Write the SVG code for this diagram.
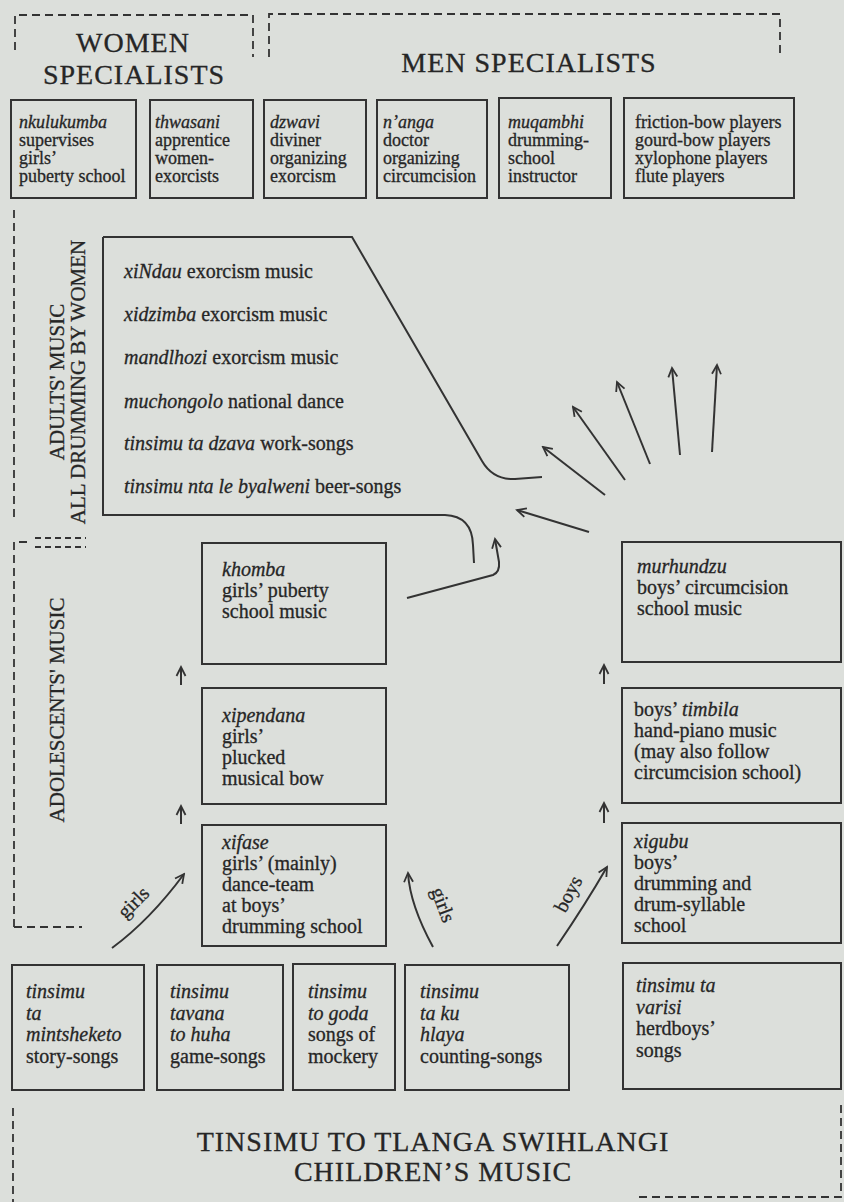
<svg xmlns="http://www.w3.org/2000/svg" width="844" height="1202" viewBox="0 0 844 1202">
<defs>
<marker id="ah" viewBox="-11 -6 13 12" refX="0" refY="0" markerWidth="13" markerHeight="12" markerUnits="userSpaceOnUse" orient="auto">
<path d="M-9,-4.5 L0,0 L-9,4.5" fill="none" stroke="#333" stroke-width="1.8"/>
</marker>
</defs>
<style>
.box{fill:none;stroke:#333;stroke-width:2}
.ln{fill:none;stroke:#333;stroke-width:2}
.dash{fill:none;stroke:#333;stroke-width:1.8;stroke-dasharray:8 5}
text{font-family:"Liberation Serif","Times New Roman",serif;fill:#262626;stroke:#262626;stroke-width:0.3}
.h{font-size:28px;letter-spacing:1px}
.lab{font-size:21px}
.s{font-size:18px}
.b{font-size:20px}
.i{font-style:italic}
</style>
<rect x="0" y="0" width="844" height="1202" fill="#dcdfdb"/>

<g id="brackets">
<path class="dash" d="M15,50 V15 H253 V57"/>
<path class="dash" d="M269,57 V14 H780 V55"/>
<path class="dash" d="M14,210 V522"/>
<path class="dash" d="M14,927 V542 H30"/>
<path class="dash" d="M35,538 H86 M35,547 H86" style="stroke-dasharray:6 4"/>
<path class="dash" d="M14,927 H82"/>
<path class="dash" d="M13,1108 V1202"/>
<path class="dash" d="M841,1105 V1197 H636"/>
</g>

<g id="headings">
<text class="h" x="133" y="52" text-anchor="middle">WOMEN</text>
<text class="h" x="134" y="84" text-anchor="middle">SPECIALISTS</text>
<text class="h" x="529" y="72" text-anchor="middle">MEN SPECIALISTS</text>
<text class="lab" transform="translate(64,382) rotate(-90)" text-anchor="middle">ADULTS' MUSIC</text>
<text class="lab" transform="translate(85,382) rotate(-90)" text-anchor="middle">ALL DRUMMING BY WOMEN</text>
<text class="lab" transform="translate(64,710) rotate(-90)" text-anchor="middle">ADOLESCENTS' MUSIC</text>
<text class="h" x="433" y="1151" text-anchor="middle">TINSIMU TO TLANGA SWIHLANGI</text>
<text class="h" x="433" y="1181" text-anchor="middle">CHILDREN’S MUSIC</text>
</g>

<g id="nkulukumba">
<rect class="box" x="11" y="100" width="125" height="98"/>
<text class="s" x="19" y="128"><tspan class="i">nkulukumba</tspan><tspan x="19" dy="18">supervises</tspan><tspan x="19" dy="18">girls’</tspan><tspan x="19" dy="18">puberty school</tspan></text>
</g>
<g id="thwasani">
<rect class="box" x="150" y="100" width="103" height="98"/>
<text class="s" x="155" y="128"><tspan class="i">thwasani</tspan><tspan x="155" dy="18">apprentice</tspan><tspan x="155" dy="18">women-</tspan><tspan x="155" dy="18">exorcists</tspan></text>
</g>
<g id="dzwavi">
<rect class="box" x="264" y="100" width="102" height="98"/>
<text class="s" x="270" y="128"><tspan class="i">dzwavi</tspan><tspan x="270" dy="18">diviner</tspan><tspan x="270" dy="18">organizing</tspan><tspan x="270" dy="18">exorcism</tspan></text>
</g>
<g id="nanga">
<rect class="box" x="377" y="100" width="110" height="98"/>
<text class="s" x="383" y="128"><tspan class="i">n’anga</tspan><tspan x="383" dy="18">doctor</tspan><tspan x="383" dy="18">organizing</tspan><tspan x="383" dy="18">circumcision</tspan></text>
</g>
<g id="muqambhi">
<rect class="box" x="499" y="98" width="112" height="100"/>
<text class="s" x="508" y="128"><tspan class="i">muqambhi</tspan><tspan x="508" dy="18">drumming-</tspan><tspan x="508" dy="18">school</tspan><tspan x="508" dy="18">instructor</tspan></text>
</g>
<g id="players">
<rect class="box" x="624" y="98" width="170" height="100"/>
<text class="s" x="635" y="128">friction-bow players<tspan x="635" dy="18">gourd-bow players</tspan><tspan x="635" dy="18">xylophone players</tspan><tspan x="635" dy="18">flute players</tspan></text>
</g>

<g id="adults">
<path class="ln" d="M103,237 H352 L482,461 Q493,480 515,479 L542,477"/>
<path class="ln" d="M103,237 V515 H445 Q472,516 473,545 L474,563"/>
<text class="b" x="124" y="278"><tspan class="i">xiNdau</tspan> exorcism music</text>
<text class="b" x="124" y="321"><tspan class="i">xidzimba</tspan> exorcism music</text>
<text class="b" x="124" y="364"><tspan class="i">mandlhozi</tspan> exorcism music</text>
<text class="b" x="124" y="408"><tspan class="i">muchongolo</tspan> national dance</text>
<text class="b" x="124" y="450"><tspan class="i">tinsimu ta dzava</tspan> work-songs</text>
<text class="b" x="124" y="493"><tspan class="i">tinsimu nta le byalweni</tspan> beer-songs</text>
</g>

<g id="khomba">
<rect class="box" x="202" y="543" width="184" height="121"/>
<text class="b" x="222" y="576"><tspan class="i">khomba</tspan><tspan x="222" dy="21">girls’ puberty</tspan><tspan x="222" dy="21">school music</tspan></text>
</g>
<g id="xipendana">
<rect class="box" x="202" y="688" width="184" height="116"/>
<text class="b" x="222" y="722"><tspan class="i">xipendana</tspan><tspan x="222" dy="21">girls’</tspan><tspan x="222" dy="21">plucked</tspan><tspan x="222" dy="21">musical bow</tspan></text>
</g>
<g id="xifase">
<rect class="box" x="202" y="825" width="184" height="121"/>
<text class="b" x="222" y="849"><tspan class="i">xifase</tspan><tspan x="222" dy="21">girls’ (mainly)</tspan><tspan x="222" dy="21">dance-team</tspan><tspan x="222" dy="21">at boys’</tspan><tspan x="222" dy="21">drumming school</tspan></text>
</g>
<g id="murhundzu">
<rect class="box" x="622" y="542" width="219" height="120"/>
<text class="b" x="637" y="573"><tspan class="i">murhundzu</tspan><tspan x="637" dy="21">boys’ circumcision</tspan><tspan x="637" dy="21">school music</tspan></text>
</g>
<g id="timbila">
<rect class="box" x="622" y="688" width="219" height="115"/>
<text class="b" x="634" y="716">boys’ <tspan class="i">timbila</tspan><tspan x="634" dy="21">hand-piano music</tspan><tspan x="634" dy="21">(may also follow</tspan><tspan x="634" dy="21">circumcision school)</tspan></text>
</g>
<g id="xigubu">
<rect class="box" x="622" y="823" width="219" height="120"/>
<text class="b" x="634" y="848"><tspan class="i">xigubu</tspan><tspan x="634" dy="21">boys’</tspan><tspan x="634" dy="21">drumming and</tspan><tspan x="634" dy="21">drum-syllable</tspan><tspan x="634" dy="21">school</tspan></text>
</g>

<g id="c1">
<rect class="box" x="12" y="965" width="132" height="125"/>
<text class="b" x="26" y="998"><tspan class="i">tinsimu</tspan><tspan class="i" x="26" dy="21.5">ta</tspan><tspan class="i" x="26" dy="21.5">mintsheketo</tspan><tspan x="26" dy="21.5">story-songs</tspan></text>
</g>
<g id="c2">
<rect class="box" x="157" y="965" width="126" height="125"/>
<text class="b" x="170" y="998"><tspan class="i">tinsimu</tspan><tspan class="i" x="170" dy="21.5">tavana</tspan><tspan class="i" x="170" dy="21.5">to huha</tspan><tspan x="170" dy="21.5">game-songs</tspan></text>
</g>
<g id="c3">
<rect class="box" x="293" y="964" width="102" height="126"/>
<text class="b" x="308" y="998"><tspan class="i">tinsimu</tspan><tspan class="i" x="308" dy="21.5">to goda</tspan><tspan x="308" dy="21.5">songs of</tspan><tspan x="308" dy="21.5">mockery</tspan></text>
</g>
<g id="c4">
<rect class="box" x="405" y="965" width="164" height="125"/>
<text class="b" x="420" y="998"><tspan class="i">tinsimu</tspan><tspan class="i" x="420" dy="21.5">ta ku</tspan><tspan class="i" x="420" dy="21.5">hlaya</tspan><tspan x="420" dy="21.5">counting-songs</tspan></text>
</g>
<g id="c5">
<rect class="box" x="623" y="963" width="218" height="126"/>
<text class="b" x="636" y="992"><tspan class="i">tinsimu ta</tspan><tspan class="i" x="636" dy="21.5">varisi</tspan><tspan x="636" dy="21.5">herdboys’</tspan><tspan x="636" dy="21.5">songs</tspan></text>
</g>

<g id="connectors">
<path class="ln" marker-end="url(#ah)" d="M407,598 L493,575 Q500,572 499,562 L495,539"/>
<line class="ln" marker-end="url(#ah)" x1="589" y1="532" x2="517" y2="510"/>
<line class="ln" marker-end="url(#ah)" x1="605" y1="495" x2="543" y2="447"/>
<line class="ln" marker-end="url(#ah)" x1="625" y1="480" x2="573" y2="407"/>
<line class="ln" marker-end="url(#ah)" x1="650" y1="464" x2="617" y2="382"/>
<line class="ln" marker-end="url(#ah)" x1="680" y1="455" x2="672" y2="368"/>
<line class="ln" marker-end="url(#ah)" x1="712" y1="452" x2="717" y2="365"/>
<line class="ln" marker-end="url(#ah)" x1="181" y1="685" x2="181" y2="667"/>
<line class="ln" marker-end="url(#ah)" x1="181" y1="824" x2="181" y2="806"/>
<line class="ln" marker-end="url(#ah)" x1="604" y1="684" x2="604" y2="665"/>
<line class="ln" marker-end="url(#ah)" x1="604" y1="823" x2="604" y2="803"/>
<path class="ln" marker-end="url(#ah)" d="M112,948 Q150,920 184,874"/>
<path class="ln" marker-end="url(#ah)" d="M433,947 Q410,905 408,873"/>
<path class="ln" marker-end="url(#ah)" d="M557,946 Q585,905 607,867"/>
<text class="b" transform="translate(138,907) rotate(-45)" text-anchor="middle">girls</text>
<text class="b" transform="translate(437,907) rotate(70)" text-anchor="middle">girls</text>
<text class="b" transform="translate(574,897) rotate(-62)" text-anchor="middle">boys</text>
</g>
</svg>
